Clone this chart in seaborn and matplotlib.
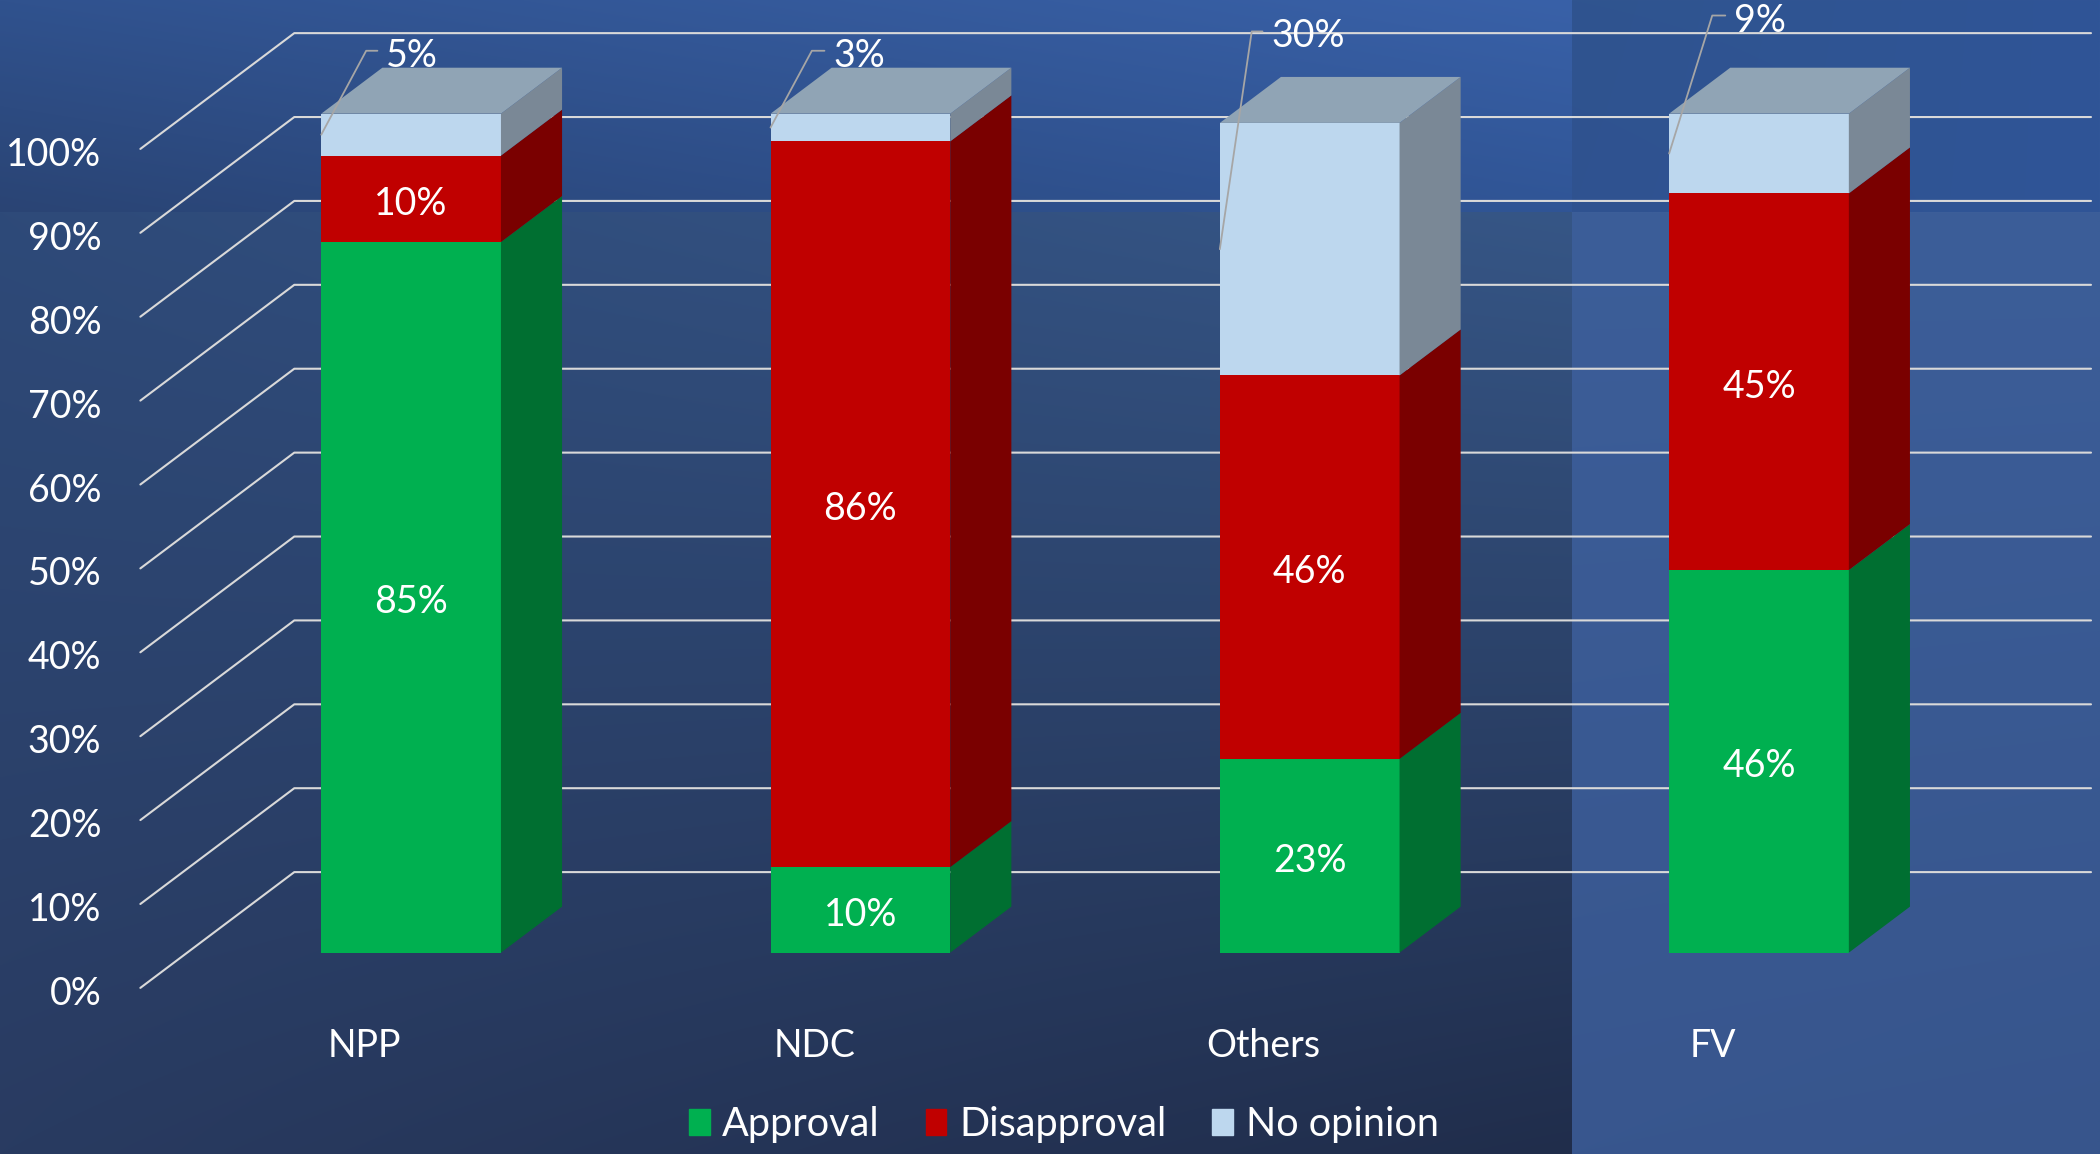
import numpy as np
import pandas as pd
import seaborn as sns
import matplotlib.pyplot as plt
from matplotlib.patches import Patch

# values (bar heights), labels as printed on the chart
parties = ['NPP', 'NDC', 'Others', 'FV']
approval = [84.7, 10.2, 23.1, 45.6]
disapproval = [10.3, 86.5, 45.7, 44.9]
no_opinion = [5, 3.3, 30.1, 9.5]
approval_labels = ['85%', '10%', '23%', '46%']
disapproval_labels = ['10%', '86%', '46%', '45%']
no_opinion_labels = ['5%', '3%', '30%', '9%']
y_ticks = [0, 10, 20, 30, 40, 50, 60, 70, 80, 90, 100]

# front, side colours
series = [
    ('Approval', approval, '#00B050', '#006F31'),
    ('Disapproval', disapproval, '#C00000', '#7A0000'),
    ('No opinion', no_opinion, '#BDD7EE', '#7A8896'),
]
top_colour = '#90A4B5'

sns.set_theme(style='white')
plt.rcParams['font.family'] = ['Lato', 'DejaVu Sans']

fig = plt.figure(figsize=(21, 11.54), dpi=100)
ax = fig.add_axes([0, 0, 1, 1])


def gradient(tl, tr, bl, br, h, w):
    # bilinear blend of four corner colours
    c = [np.array(plt.matplotlib.colors.to_rgb(k)) for k in (tl, tr, bl, br)]
    fy = np.linspace(0, 1, h)[:, None, None]
    fx = np.linspace(0, 1, w)[None, :, None]
    return (c[0] * (1 - fx) + c[1] * fx) * (1 - fy) + (c[2] * (1 - fx) + c[3] * fx) * fy


# Background: two bands, with a lighter panel behind FV
left_top = gradient('#30528E', '#3961A8', '#2A4474', '#305596', 212, 1572)
left_bot = gradient('#2E4A79', '#365686', '#293B61', '#202D4B', 942, 1572)
right_top = gradient('#30548F', '#305597', '#2F5290', '#305597', 212, 528)
right_bot = gradient('#3C5E99', '#3C5E99', '#38568E', '#37558C', 942, 528)
bg = np.vstack([np.hstack([left_top, right_top]), np.hstack([left_bot, right_bot])])
ax.imshow(bg, extent=[0, 1, 0, 1], transform=ax.transAxes, aspect='auto', zorder=0)

# Stacked bars
bottom = np.zeros(len(parties))
for name, values, colour, side in series:
    df = pd.DataFrame({'party': parties, 'share': values})
    sns.barplot(data=df, x='party', y='share', order=parties, color=colour, saturation=1,
                width=0.4, bottom=bottom, errorbar=None, edgecolor='none', linewidth=0,
                zorder=3, ax=ax)
    bottom = bottom + np.array(values)

# Fake 3D: side faces and lids
half = 0.2
depth_x = 0.136
depth_y = 5.48
bottom = np.zeros(len(parties))
for name, values, colour, side in series:
    for i, v in enumerate(values):
        r = i + half
        b = bottom[i]
        ax.fill([r, r + depth_x, r + depth_x, r],
                [b, b + depth_y, b + v + depth_y, b + v], color=side, lw=0, zorder=3)
    bottom = bottom + np.array(values)
for i, total in enumerate(bottom):
    ax.fill([i - half, i + half, i + half + depth_x, i - half + depth_x],
            [total, total, total + depth_y, total + depth_y], color=top_colour, lw=0, zorder=3)

# Wall grid lines with the diagonal floor part
wall_x0, wall_x1, wall_x2 = -0.6026, -0.26, 3.739
front_y, back_y = -4.2, 9.6
for t in y_ticks:
    ax.plot([wall_x0, wall_x1, wall_x2], [t + front_y, t + back_y, t + back_y],
            color='#D9D9D9', lw=1.5, zorder=1)

# Labels inside the bars
for k, labels in enumerate([approval_labels, disapproval_labels]):
    texts = ax.bar_label(ax.containers[k], labels=labels, label_type='center',
                         color='white', fontsize=27, zorder=5)
    for t in texts:
        t.xyann = (0, -3.5)

# Callouts for the no opinion share
label_y = [107.5, 107.5, 109.8, 111.7]
elbow_dx = [0.1, 0.092, 0.071, 0.096]
end_dx = [0.125, 0.12, 0.095, 0.125]
base = np.array(approval) + np.array(disapproval)
for i, v in enumerate(no_opinion):
    x0 = i - half
    y0 = base[i] + v / 2
    ax.plot([x0, x0 + elbow_dx[i], x0 + end_dx[i]], [y0, label_y[i], label_y[i]],
            color='#A6A6A6', lw=1.3, zorder=4)
    ax.text(x0 + end_dx[i] + 0.02, label_y[i] - 0.6, no_opinion_labels[i], color='white',
            fontsize=27, va='center', ha='left', zorder=5)

ax.set_xlim(-0.915, 3.759)
ax.set_ylim(-24.0, 113.55)
ax.set_xlabel('')
ax.set_ylabel('')
sns.despine(ax=ax, left=True, bottom=True)

ax.set_yticks(np.array(y_ticks) + front_y - 0.3)
ax.set_yticklabels([f'{t}%' for t in y_ticks], color='white', fontsize=27)
ax.set_xticks(np.arange(len(parties)) - 0.103)
ax.set_xticklabels(parties, color='white', fontsize=27)
ax.tick_params(axis='y', length=0, pad=-73)
ax.tick_params(axis='x', length=0, pad=-91)

handles = [Patch(color=c, label=n) for n, _, c, _ in series]
leg = ax.legend(handles=handles, ncol=3, frameon=False, loc='lower center',
                bbox_to_anchor=(0.5065, -0.021), fontsize=28.5, labelcolor='white',
                handlelength=0.53, handleheight=0.62, handletextpad=0.32, columnspacing=1.15)

fig.savefig('out.png', dpi=100)
